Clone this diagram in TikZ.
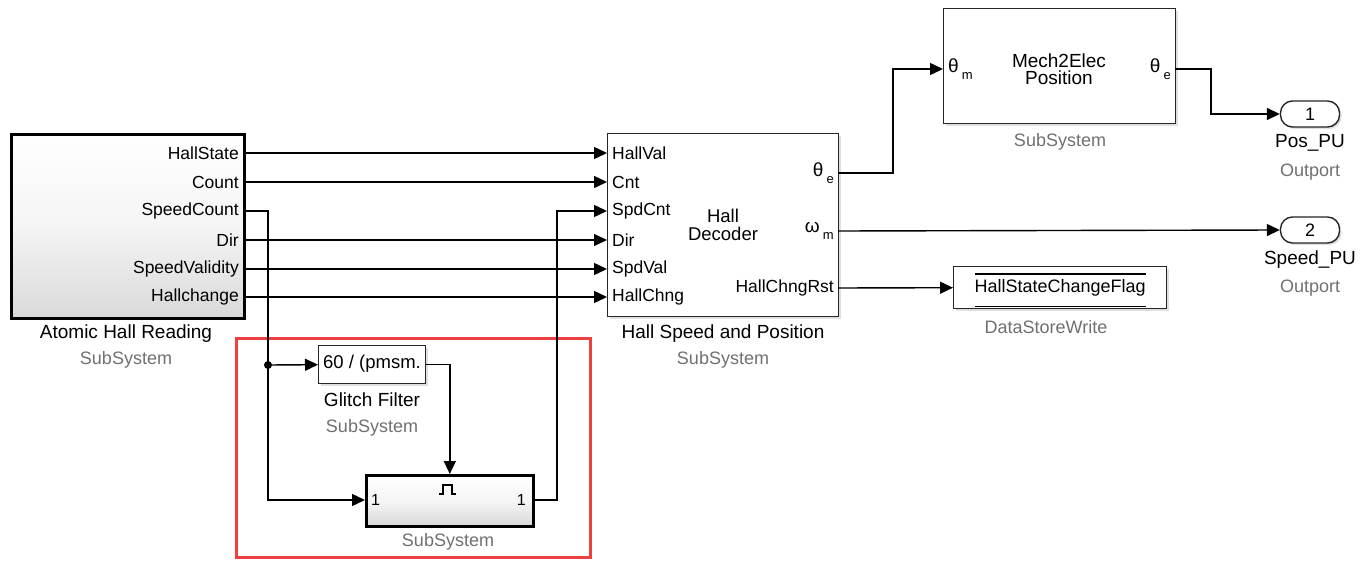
\documentclass[tikz,border=0pt]{standalone}
\usepackage{fontspec}
\setmainfont{Liberation Sans}
\usetikzlibrary{arrows.meta,shadows,calc}
\definecolor{lblgray}{RGB}{112,112,112}
\definecolor{hlred}{RGB}{238,64,64}
\tikzset{
  blk/.style={draw=black!85, line width=1.4pt, fill=white, anchor=north west, inner sep=0pt,
    drop shadow={opacity=0.25, shadow xshift=2pt, shadow yshift=-2pt}},
  gblk/.style={draw=black, line width=2.6pt, top color=white, bottom color=black!15, middle color=black!4, anchor=north west, inner sep=0pt,
    drop shadow={opacity=0.3, shadow xshift=2pt, shadow yshift=-2pt}},
  outp/.style={draw=black!85, line width=1.4pt, fill=white, rounded corners=12pt, minimum width=59pt, minimum height=26pt, inner sep=0pt,
    drop shadow={opacity=0.25, shadow xshift=2pt, shadow yshift=-2pt}, font=\fontsize{18}{19}\selectfont},
  portout/.style={anchor=east, inner xsep=4pt, inner ysep=0pt, font=\fontsize{17.5}{18}\selectfont},
  portin/.style={anchor=west, inner xsep=5pt, inner ysep=0pt, font=\fontsize{17.5}{18}\selectfont},
  bname/.style={font=\fontsize{19}{20}\selectfont, inner sep=0pt},
  bkind/.style={font=\fontsize{18}{19}\selectfont, text=lblgray, inner sep=0pt},
  wire/.style={line width=1.4pt, draw=black},
  arr/.style={wire, -{Triangle[length=13pt,width=12pt]}}
}
\begin{document}
\begin{tikzpicture}[x=1pt,y=-1pt]
\useasboundingbox (0,0) rectangle (1372,561);

% ---------- Atomic Hall Reading ----------
\node[gblk, minimum width=233pt, minimum height=184pt] (ahr) at (10,133) {};
\node[portout] (aHallState) at (243,153) {HallState};
\node[portout] (aCount) at (243,182) {Count};
\node[portout] (aSpeedCount) at (243,211) {SpeedCount};
\node[portout] (aDir) at (243,240) {Dir};
\node[portout] (aSpeedVal) at (243,269) {SpeedValidity};
\node[portout] (aHallchange) at (243,297) {Hallchange};
\node[bname] (ahrName) at (126,334) {Atomic Hall Reading};
\node[bkind] (ahrKind) at (126,360) {SubSystem};

% ---------- Hall Speed and Position ----------
\node[blk, minimum width=231pt, minimum height=183pt] (hsp) at (607,133) {};
\node[portin] (hHallVal) at (607,153) {HallVal};
\node[portin] (hCnt) at (607,182) {Cnt};
\node[portin] (hSpdCnt) at (607,211) {SpdCnt};
\node[portin] (hDir) at (607,240) {Dir};
\node[portin] (hSpdVal) at (607,269) {SpdVal};
\node[portin] (hHallChng) at (607,297) {HallChng};
\node[portout] (hTheta) at (838,173) {\fontsize{19}{19}\selectfont θ\,\raisebox{-7pt}{\fontsize{13}{13}\selectfont e}};
\node[portout] (hOmega) at (838,231) {\fontsize{19}{19}\selectfont ω\,\raisebox{-7pt}{\fontsize{13}{13}\selectfont m}};
\node[portout] (hRst) at (838,288) {HallChngRst};
\node[bname, align=center, font=\fontsize{18.5}{17.5}\selectfont] (hText) at (723,225) {Hall\\Decoder};
\node[bname] (hspName) at (723,334) {Hall Speed and Position};
\node[bkind] (hspKind) at (723,360) {SubSystem};

% ---------- Mech2Elec ----------
\node[blk, minimum width=232pt, minimum height=115pt] (m2e) at (943,8) {};
\node[portin] (mIn) at (943,69) {\fontsize{19}{19}\selectfont θ\,\raisebox{-7pt}{\fontsize{13}{13}\selectfont m}};
\node[portout] (mOut) at (1175,69) {\fontsize{19}{19}\selectfont θ\,\raisebox{-7pt}{\fontsize{13}{13}\selectfont e}};
\node[bname, align=center, font=\fontsize{19}{17.5}\selectfont] (mText) at (1059,69) {Mech2Elec\\Position};
\node[bkind] (m2eKind) at (1060,142) {SubSystem};

% ---------- Outports ----------
\node[outp] (out1) at (1310,114) {1};
\node[bname] (out1Name) at (1310,143) {Pos\_PU};
\node[bkind] (out1Kind) at (1310,172) {Outport};
\node[outp] (out2) at (1310,230) {2};
\node[bname] (out2Name) at (1310,260) {Speed\_PU};
\node[bkind] (out2Kind) at (1310,288) {Outport};

% ---------- DataStoreWrite ----------
\node[blk, minimum width=213pt, minimum height=42pt, font=\fontsize{18}{18}\selectfont] (dsw) at (953,266) {HallStateChangeFlag};
\draw[line width=1.2pt] ($(dsw.north west)+(22,8)$) -- ($(dsw.north east)+(-21,8)$);
\draw[line width=1.2pt] ($(dsw.south west)+(22,-3)$) -- ($(dsw.south east)+(-21,-3)$);
\node[bkind] (dswKind) at (1046,327) {DataStoreWrite};

% ---------- Glitch Filter ----------
\node[blk, minimum width=107pt, minimum height=38pt] (gf) at (318,345) {};
\node[anchor=west, inner sep=0pt, font=\fontsize{18.5}{18}\selectfont] (gfText) at (323,364) {60 / (pmsm.};
\node[bname] (gfName) at (372,400) {Glitch Filter};
\node[bkind] (gfKind) at (372,428) {SubSystem};

% ---------- triggered SubSystem ----------
\node[gblk, minimum width=167pt, minimum height=51pt] (ts) at (365,474) {};
\node[portin, inner xsep=6pt, font=\fontsize{16}{16}\selectfont] (tsIn) at (365,500) {1};
\node[portout, inner xsep=6pt, font=\fontsize{16}{16}\selectfont] (tsOut) at (532,500) {1};
\draw[line width=1.5pt] (439,494) -- (443,494) -- (443,485) -- (452,485) -- (452,494) -- (456,494);
\node[bkind] (tsKind) at (448,542) {SubSystem};

% ---------- highlight ----------
\draw[hlred, line width=3pt] (236,338) rectangle (590,557);

% ---------- wires ----------
\draw[arr] (aHallState.east) -- (hHallVal.west);
\draw[arr] (aCount.east) -- (hCnt.west);
\draw[arr] (aDir.east) -- (hDir.west);
\draw[arr] (aSpeedVal.east) -- (hSpdVal.west);
\draw[arr] (aHallchange.east) -- (hHallChng.west);

\node[circle, fill=black, inner sep=0pt, minimum size=8pt] (j) at (268,365) {};
\draw[wire] (aSpeedCount.east) -| (j.center);
\draw[arr] (j.center) -- (gf.west);
\draw[arr] (j.center) |- (tsIn.west);
\draw[arr] (gf.east) -| (ts.north);
\draw[arr] (tsOut.east) -- ++(25,0) |- (hSpdCnt.west);

\draw[arr] (hTheta.east) -- ++(55,0) |- (mIn.west);
\draw[arr] (mOut.east) -- ++(36,0) |- (out1.west);
\draw[arr] (hOmega.east) -- (out2.west);
\draw[arr] (hRst.east) -- (dsw.west);
\end{tikzpicture}
\end{document}
